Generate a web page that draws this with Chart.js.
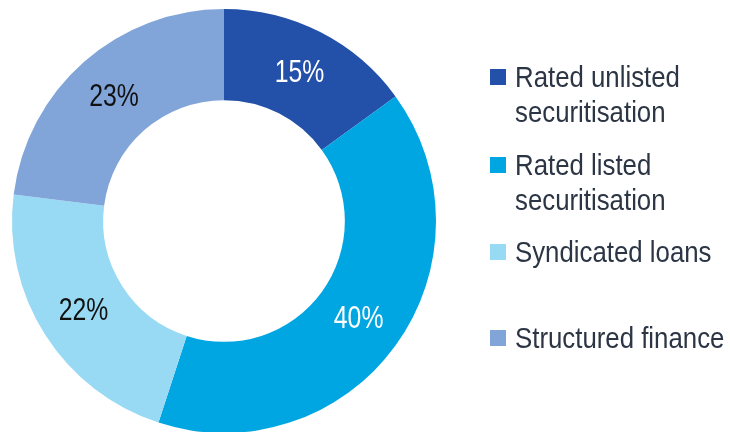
<!DOCTYPE html>
<html>
<head>
<meta charset="utf-8">
<script src="https://cdn.jsdelivr.net/npm/chart.js@4"></script>
<style>
  html, body { margin: 0; padding: 0; background: #ffffff; overflow: hidden; }
  #wrap { position: relative; width: 730px; height: 432px; }
  #c { position: absolute; left: 0; top: 0; }
  .lg { position: absolute; left: 490px; }
  .sw { position: absolute; left: 0; width: 16px; height: 16px; }
  .tx { position: absolute; left: 25px; top: 0; font-family: "Liberation Sans", Arial, sans-serif;
        font-size: 30px; line-height: 35px; color: #2b3544; white-space: nowrap;
        transform: scaleX(0.86); transform-origin: 0 0; }
</style>
</head>
<body>
<div id="wrap">
  <canvas id="c" width="730" height="432"></canvas>
</div>
<script>
const categories = [
  ["Rated unlisted", "securitisation"],
  ["Rated listed", "securitisation"],
  ["Syndicated loans"],
  ["Structured finance"]
];
const shares = [15, 40, 22, 23];
const sliceColors = ["#2350a8", "#00a6e2", "#98daf4", "#81a5d9"];
const labelColors = ["#ffffff", "#ffffff", "#111111", "#111111"];
const legendTops = [59, 147, 234, 320];

const sliceLabels = {
  id: "sliceLabels",
  afterDatasetsDraw(chart) {
    const ctx = chart.ctx;
    const meta = chart.getDatasetMeta(0);
    meta.data.forEach((arc, i) => {
      const p = arc.tooltipPosition();
      ctx.save();
      ctx.translate(p.x, p.y);
      ctx.scale(0.8, 1);
      ctx.font = "31px 'Liberation Sans', Arial, sans-serif";
      ctx.fillStyle = labelColors[i];
      ctx.textAlign = "center";
      ctx.textBaseline = "middle";
      ctx.fillText(shares[i] + "%", 0, 1);
      ctx.restore();
    });
  }
};

const chart = new Chart(document.getElementById("c"), {
  type: "doughnut",
  data: {
    labels: categories,
    datasets: [{
      data: shares,
      backgroundColor: sliceColors,
      borderWidth: 0,
      radius: 212,
      cutout: "57%"
    }]
  },
  options: {
    responsive: false,
    animation: false,
    layout: { padding: { left: 12, right: 294, top: 10, bottom: 0 } },
    plugins: { legend: { display: false }, tooltip: { enabled: false } }
  },
  plugins: [sliceLabels]
});

// HTML legend built from the chart's labels and colours
const wrap = document.getElementById("wrap");
chart.data.labels.forEach((lines, i) => {
  const item = document.createElement("div");
  item.className = "lg";
  item.style.top = legendTops[i] + "px";
  const sw = document.createElement("div");
  sw.className = "sw";
  sw.style.top = "10px";
  sw.style.background = chart.data.datasets[0].backgroundColor[i];
  const tx = document.createElement("div");
  tx.className = "tx";
  tx.innerHTML = lines.join("<br>");
  item.appendChild(sw);
  item.appendChild(tx);
  wrap.appendChild(item);
});
</script>
</body>
</html>
